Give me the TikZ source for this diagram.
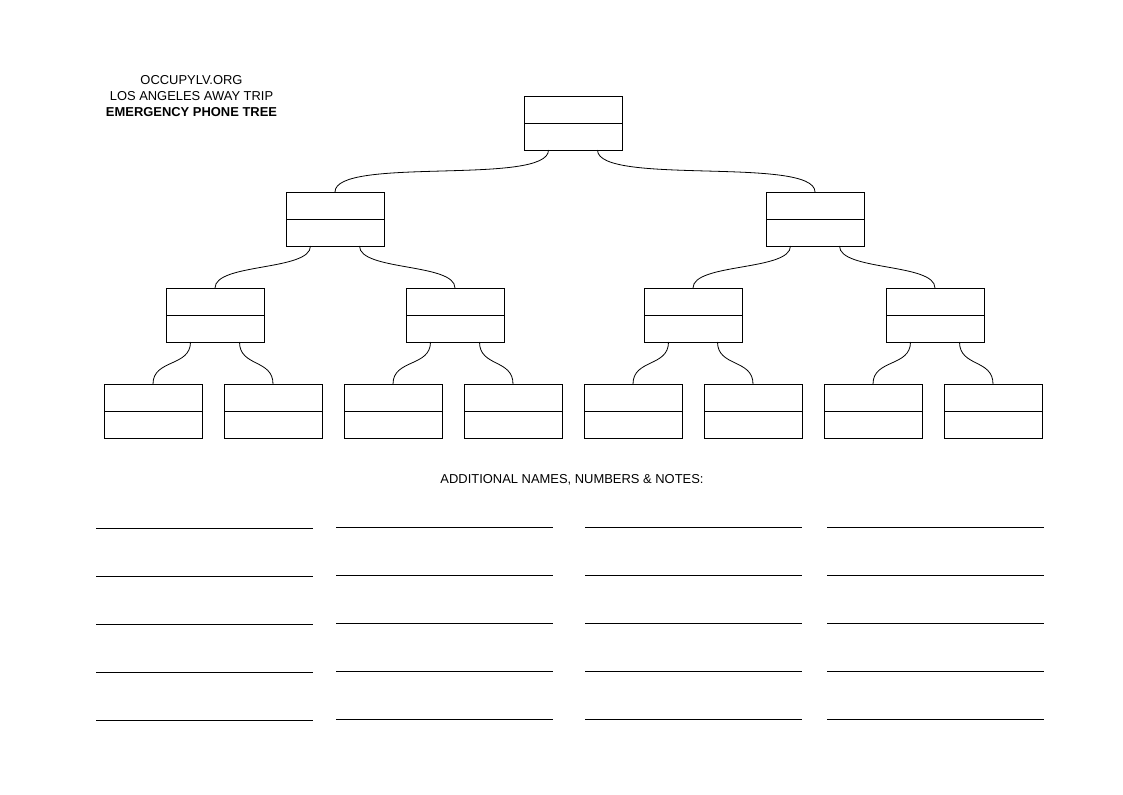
\documentclass[tikz,border=0pt]{standalone}
\usepackage{fontspec}
\setmainfont{Liberation Sans}
\tikzset{
  namebox/.style={draw, line width=0.75pt, minimum width=73.5pt, minimum height=40.5pt, inner sep=0pt, outer sep=0pt},
  branch/.style={line width=0.6pt},
  writeline/.style={line width=0.75pt},
  label font/.style={font=\fontsize{9.7}{12}\selectfont}
}
\begin{document}
\begin{tikzpicture}[x=0.75pt, y=-0.75pt]
	\useasboundingbox (0,0) rectangle (1123,794);

	% Titulo
		\node[label font, align=center] (title) at (191.5,96) {OCCUPYLV.ORG\\LOS ANGELES AWAY TRIP\\\textbf{EMERGENCY PHONE TREE}};

	% Cajas
		\node[namebox] (top) at (573,123) {};
		\node[namebox] (l) at (335,219) {};
		\node[namebox] (r) at (815,219) {};
		\node[namebox] (ll) at (215,315) {};
		\node[namebox] (lr) at (455,315) {};
		\node[namebox] (rl) at (693,315) {};
		\node[namebox] (rr) at (935,315) {};
		\node[namebox] (lll) at (153,411) {};
		\node[namebox] (llr) at (273,411) {};
		\node[namebox] (lrl) at (393,411) {};
		\node[namebox] (lrr) at (513,411) {};
		\node[namebox] (rll) at (633,411) {};
		\node[namebox] (rlr) at (753,411) {};
		\node[namebox] (rrl) at (873,411) {};
		\node[namebox] (rrr) at (993,411) {};

	% Divisiones
		\foreach \b in {top,l,r,ll,lr,rl,rr,lll,llr,lrl,lrr,rll,rlr,rrl,rrr}
			\draw[line width=0.75pt] (\b.west) -- (\b.east);

	% Ramas
		\foreach \p/\c/\s/\d in {top/l/-1/36, top/r/1/36, l/ll/-1/25, l/lr/1/25, r/rl/-1/25, r/rr/1/25,
				ll/lll/-1/25, ll/llr/1/25, lr/lrl/-1/25, lr/lrr/1/25, rl/rll/-1/25, rl/rlr/1/25, rr/rrl/-1/25, rr/rrr/1/25}
			\draw[branch] (\p.south) ++(\s*24.5,0) .. controls +(0,\d) and +(0,-\d) .. (\c.north);

	% Notas
		\node[label font] (notes) at (572,479.5) {ADDITIONAL NAMES, NUMBERS \& NOTES:};
		\foreach \x/\o in {96/1,336/0,585/0,827/0}
			\foreach \y in {527,575,623,671,719}
				\draw[writeline] (\x,\y+\o) -- ++(217,0);
\end{tikzpicture}
\end{document}
